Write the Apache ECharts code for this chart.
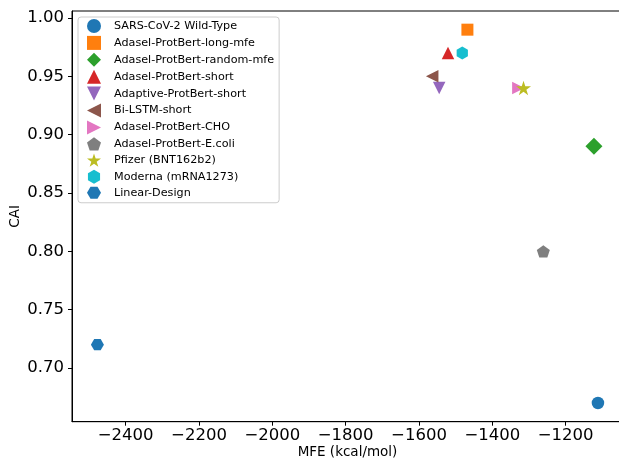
<!DOCTYPE html>
<html>
<head>
<meta charset="utf-8">
<script src="https://cdn.jsdelivr.net/npm/echarts@6/dist/echarts.min.js"></script>
<style>
  html, body { margin: 0; padding: 0; background: #fff; }
  #main { width: 619px; height: 464px; }
</style>
</head>
<body>
<div id="main"></div>
<script>
var names = ['SARS-CoV-2 Wild-Type', 'Adasel-ProtBert-long-mfe', 'Adasel-ProtBert-random-mfe',
    'Adasel-ProtBert-short', 'Adaptive-ProtBert-short', 'Bi-LSTM-short', 'Adasel-ProtBert-CHO',
    'Adasel-ProtBert-E.coli', 'Pfizer (BNT162b2)', 'Moderna (mRNA1273)', 'Linear-Design'];
var mfe = [-1112, -1468, -1123, -1521, -1545, -1564, -1329, -1261, -1315, -1482, -2477];
var cai = [0.67, 0.99, 0.89, 0.97, 0.94, 0.95, 0.94, 0.80, 0.94, 0.97, 0.72];
var xTicks = [-2400, -2200, -2000, -1800, -1600, -1400, -1200];
var yTicks = [0.70, 0.75, 0.80, 0.85, 0.90, 0.95, 1.00];

var colors = ['#1f77b4', '#ff7f0e', '#2ca02c', '#d62728', '#9467bd', '#8c564b',
    '#e377c2', '#7f7f7f', '#bcbd22', '#17becf', '#1f77b4'];
// marker shapes (matplotlib style), drawn as paths so legend icons keep their aspect
var square = 'path://M0,0 L2,0 L2,2 L0,2 Z';
var diamond = 'path://M1,0 L2,1 L1,2 L0,1 Z';
var triUp = 'path://M1,0 L2,2 L0,2 Z';
var triDown = 'path://M0,0 L2,0 L1,2 Z';
var triLeft = 'path://M2,0 L2,2 L0,1 Z';
var triRight = 'path://M0,0 L0,2 L2,1 Z';
var pentagon = 'path://M0,-100 L95.1,-30.9 L58.8,80.9 L-58.8,80.9 L-95.1,-30.9 Z';
var star = 'path://M0,-100 L22.5,-30.9 L95.1,-30.9 L36.3,11.8 L58.8,80.9 L0,38.2 L-58.8,80.9 L-36.3,11.8 L-95.1,-30.9 L-22.5,-30.9 Z';
var hexPointy = 'path://M0,-100 L86.6,-50 L86.6,50 L0,100 L-86.6,50 L-86.6,-50 Z';
var hexFlat = 'path://M-100,0 L-50,-86.6 L50,-86.6 L100,0 L50,86.6 L-50,86.6 Z';
var symbols = ['circle', square, diamond, triUp, triDown, triLeft, triRight,
    pentagon, star, hexPointy, hexFlat];
var sizes = [12.5, 12, 17, 12.5, 12.5, 12.5, 12.5, 13, 15, 13, 13];

var font = 'DejaVu Sans';

var series = names.map(function (n, i) {
    return {
        name: n,
        type: 'scatter',
        symbol: symbols[i],
        symbolSize: sizes[i],
        symbolKeepAspect: true,
        itemStyle: { color: colors[i], opacity: 1 },
        data: [[mfe[i], cai[i]]],
        z: 2 + i
    };
});

var myChart = echarts.init(document.getElementById('main'));
var option = {
    backgroundColor: '#fff',
    animation: false,
    textStyle: { fontFamily: font },
    grid: {
        left: 72, right: -4, top: 11, bottom: 42.3,
        outerBoundsMode: 'none',
        containLabel: false,
        show: true, borderColor: '#000', borderWidth: 1
    },
    legend: {
        orient: 'vertical',
        left: 78, top: 17,
        itemWidth: 14, itemHeight: 14, itemGap: 2.9,
        padding: [2, 5, 4, 9],
        borderColor: '#cccccc', borderWidth: 1, borderRadius: 3,
        backgroundColor: 'rgba(255,255,255,0.8)',
        textStyle: { fontSize: 11.2, color: '#000', fontFamily: font, padding: [0, 0, 0, 8] },
        data: names
    },
    xAxis: {
        type: 'value',
        min: -2546.3, max: -1043.7,
        name: 'MFE (kcal/mol)', nameLocation: 'middle', nameGap: 24,
        nameMoveOverlap: false,
        nameTextStyle: { fontSize: 13.5, color: '#000', fontFamily: font },
        splitLine: { show: false },
        axisLine: { onZero: false, lineStyle: { color: '#000', width: 1 } },
        axisTick: { customValues: xTicks, length: 4, lineStyle: { color: '#000' } },
        axisLabel: {
            customValues: xTicks, fontSize: 16.5, color: '#000', margin: 6, fontFamily: font,
            formatter: function (v) { return v < 0 ? '\u2212' + Math.abs(v) : String(v); }
        }
    },
    yAxis: {
        type: 'value',
        min: 0.654, max: 1.006,
        name: 'CAI', nameLocation: 'middle', nameGap: 50,
        nameMoveOverlap: false,
        nameTextStyle: { fontSize: 13.5, color: '#000', fontFamily: font },
        splitLine: { show: false },
        axisLine: { show: true, onZero: false, lineStyle: { color: '#000', width: 1 } },
        axisTick: { show: true, customValues: yTicks, length: 4, lineStyle: { color: '#000' } },
        axisLabel: {
            customValues: yTicks, fontSize: 16.5, color: '#000', margin: 8, fontFamily: font,
            formatter: function (v) { return v.toFixed(2); }
        }
    },
    series: series
};
myChart.setOption(option);
window.onresize = myChart.resize;
</script>
</body>
</html>
